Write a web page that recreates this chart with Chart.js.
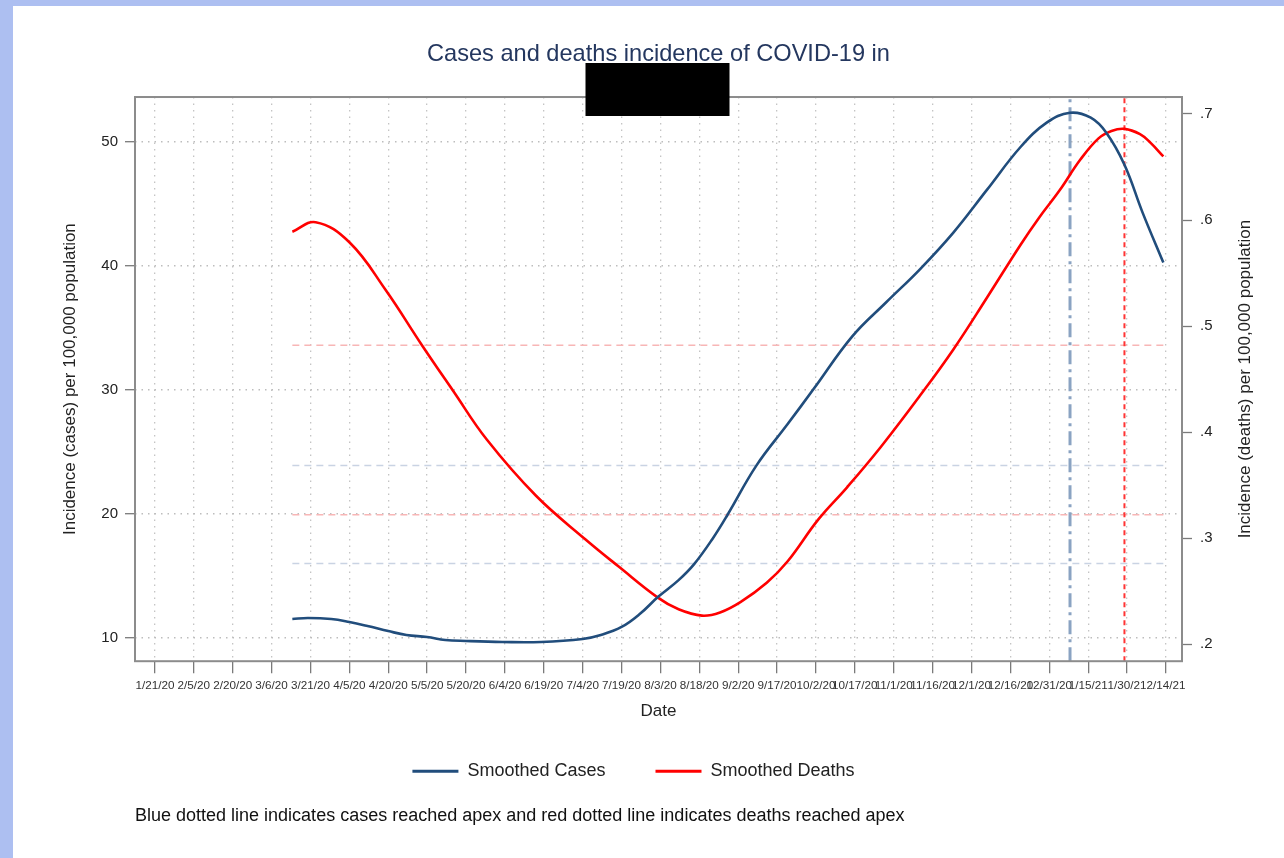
<!DOCTYPE html>
<html><head><meta charset="utf-8">
<script src="https://cdn.jsdelivr.net/npm/chart.js@4/dist/chart.umd.min.js"></script>
<style>html,body{margin:0;padding:0;background:#fff;overflow:hidden;}canvas{display:block;}</style>
</head><body>
<canvas id="c" width="1284" height="858"></canvas>
<script>
// ---------- data ----------
const dateTickLabels = ['1/21/20','2/5/20','2/20/20','3/6/20','3/21/20','4/5/20','4/20/20','5/5/20','5/20/20','6/4/20','6/19/20','7/4/20','7/19/20','8/3/20','8/18/20','9/2/20','9/17/20','10/2/20','10/17/20','11/1/20','11/16/20','12/1/20','12/16/20','12/31/20','1/15/21','1/30/21','2/14/21'];

const casesDates = ['3/14/20','3/20/20','3/29/20','4/5/20','4/12/20','4/20/20','4/27/20','5/5/20','5/12/20','5/20/20','6/3/20','6/18/20','7/4/20','7/11/20','7/19/20','7/26/20','8/2/20','8/10/20','8/16/20','8/23/20','8/29/20','9/9/20','9/21/20','10/1/20','10/16/20','10/29/20','11/11/20','11/24/20','12/7/20','12/20/20','12/30/20','1/8/21','1/16/21','1/22/21','1/29/21','2/5/21','2/13/21'];
const casesValues = [11.53,11.61,11.53,11.29,10.97,10.56,10.24,10.08,9.84,9.76,9.68,9.68,9.92,10.24,10.89,11.93,13.30,14.67,15.96,17.97,19.98,23.90,27.23,30.05,34.32,37.05,39.71,42.69,46.15,49.61,51.55,52.35,51.95,50.74,48.16,44.30,40.27];

const deathsDates = ['3/14/20','3/23/20','4/5/20','4/19/20','5/3/20','5/15/20','5/28/20','6/16/20','7/5/20','7/18/20','8/2/20','8/10/20','8/19/20','8/26/20','9/3/20','9/13/20','9/21/20','10/3/20','10/14/20','10/27/20','11/11/20','11/24/20','12/7/20','12/20/20','12/27/20','1/4/21','1/12/21','1/19/21','1/24/21','1/29/21','2/4/21','2/8/21','2/13/21'];
const deathsValues = [0.589,0.598,0.579,0.534,0.482,0.439,0.393,0.340,0.299,0.273,0.244,0.233,0.227,0.230,0.240,0.258,0.278,0.318,0.348,0.386,0.434,0.478,0.527,0.577,0.602,0.628,0.657,0.677,0.684,0.686,0.681,0.673,0.660];

const caseRefLevels = [16.0, 23.9];
const deathRefLevels = [0.322, 0.482];

const leftTickValues = [10, 20, 30, 40, 50];
const rightTickValues = [0.2, 0.3, 0.4, 0.5, 0.6, 0.7];
const rightTickLabels = ['.2', '.3', '.4', '.5', '.6', '.7'];

const titleText = 'Cases and deaths incidence of COVID-19 in';
const leftAxisTitle = 'Incidence (cases) per 100,000 population';
const rightAxisTitle = 'Incidence (deaths) per 100,000 population';
const footnote = 'Blue dotted line indicates cases reached apex and red dotted line indicates deaths reached apex';

// ---------- helpers ----------
const ORIGIN = Date.UTC(2020, 0, 21);
function dayOf(s) { const [m, d, y] = s.split('/').map(Number); return (Date.UTC(2000 + y, m - 1, d) - ORIGIN) / 864e5; }

const X_MIN = -7.7, X_MAX = 396.2;
const L_MIN = 8.13, L_MAX = 53.62;
const R_MIN = 0.184, R_MAX = 0.716;

const FONT = "'Liberation Sans', Arial, Helvetica, sans-serif";
Chart.defaults.font.family = FONT;

const casesPts = casesDates.map((d, i) => ({x: dayOf(d), y: casesValues[i]}));
const deathsPts = deathsDates.map((d, i) => ({x: dayOf(d), y: deathsValues[i]}));
const casesApexDay = dayOf(casesDates[casesValues.indexOf(Math.max(...casesValues))]);
const deathsApexDay = dayOf(deathsDates[deathsValues.indexOf(Math.max(...deathsValues))]);
const x0 = dayOf(casesDates[0]), x1 = dayOf(casesDates[casesDates.length - 1]);

const CASE_COLOR = '#214d7c';
const DEATH_COLOR = '#ff0000';

function refLine(level, axis, color) {
  return {label: 'ref', data: [{x: x0, y: level}, {x: x1, y: level}], yAxisID: axis,
    borderColor: color, borderWidth: 1.5, borderDash: [7, 5], pointRadius: 0, tension: 0};
}

const datasets = [
  {label: 'Smoothed Cases', data: casesPts, yAxisID: 'y', borderColor: CASE_COLOR, backgroundColor: CASE_COLOR,
   borderWidth: 2.6, pointRadius: 0, tension: 0.4},
  {label: 'Smoothed Deaths', data: deathsPts, yAxisID: 'y1', borderColor: DEATH_COLOR, backgroundColor: DEATH_COLOR,
   borderWidth: 2.6, pointRadius: 0, tension: 0.4},
  {label: 'apexCases', data: [{x: casesApexDay, y: L_MIN}, {x: casesApexDay, y: L_MAX}], yAxisID: 'y',
   borderColor: '#8aa3c2', borderWidth: 3, borderDash: [14, 5, 3, 5], pointRadius: 0, tension: 0},
  {label: 'apexDeaths', data: [{x: deathsApexDay, y: L_MIN}, {x: deathsApexDay, y: L_MAX}], yAxisID: 'y',
   borderColor: '#ff3434', borderWidth: 2, borderDash: [5, 4], pointRadius: 0, tension: 0},
  ...caseRefLevels.map(v => refLine(v, 'y', '#c9d3e3')),
  ...deathRefLevels.map(v => refLine(v, 'y1', '#f8b6b6'))
];

const decor = {
  id: 'decor',
  beforeDraw(chart) {
    const {ctx, width, height} = chart;
    ctx.save();
    ctx.fillStyle = '#adbff1'; ctx.fillRect(0, 0, width, height);
    ctx.fillStyle = '#ffffff'; ctx.fillRect(13, 6, width - 13, height - 6);
    ctx.restore();
  },
  afterDraw(chart) {
    const {ctx, chartArea: a} = chart;
    ctx.save();
    ctx.strokeStyle = '#8c8c8c'; ctx.lineWidth = 2;
    ctx.strokeRect(a.left, a.top, a.right - a.left, a.bottom - a.top);
    ctx.fillStyle = '#222'; ctx.font = '17px ' + FONT;
    ctx.textAlign = 'center'; ctx.textBaseline = 'middle';
    ctx.translate(chart.scales.y1.right - 22, (a.top + a.bottom) / 2);
    ctx.rotate(-Math.PI / 2);
    ctx.fillText(rightAxisTitle, 0, 0);
    ctx.restore();
    ctx.save();
    ctx.fillStyle = '#000';
    const cx = (a.left + a.right) / 2;
    ctx.fillRect(cx - 73, 63, 144, 53);
    ctx.restore();
  }
};

new Chart(document.getElementById('c'), {
  type: 'line',
  data: {datasets},
  plugins: [decor],
  options: {
    responsive: false, animation: false, devicePixelRatio: 1,
    layout: {padding: {left: 0, right: 17, top: 0, bottom: 31.2}},
    plugins: {
      title: {display: true, text: titleText, fullSize: false, color: '#24375f',
        font: {size: 23.6, weight: 'normal', lineHeight: 1.2}, padding: {top: 40, bottom: 28.7}},
      subtitle: {display: true, text: footnote, position: 'bottom', align: 'start', fullSize: false, color: '#111',
        font: {size: 18, weight: 'normal', lineHeight: 1.2}, padding: {top: 15, bottom: 0}},
      legend: {display: true, position: 'bottom', align: 'center',
        labels: {boxWidth: 46, boxHeight: 3, padding: 50, color: '#222', font: {size: 18},
          generateLabels(chart) {
            return Chart.defaults.plugins.legend.labels.generateLabels(chart)
              .filter(it => it.datasetIndex < 2).map(it => Object.assign(it, {lineWidth: 0}));
          }}},
      tooltip: {enabled: false}
    },
    scales: {
      x: {type: 'linear', position: 'bottom', min: X_MIN, max: X_MAX, offset: false,
        afterBuildTicks(s) { s.ticks = dateTickLabels.map(l => ({value: dayOf(l)})); },
        afterFit(s) { s.height = 51; },
        ticks: {autoSkip: false, maxRotation: 0, minRotation: 0, padding: 6, color: '#333', font: {size: 11.7},
          callback: (v, i) => dateTickLabels[i]},
        grid: {display: true, drawOnChartArea: true, drawTicks: true, color: '#c4c4c4', lineWidth: 1.3,
          tickLength: 12, tickColor: '#7a7a7a', tickWidth: 1.3, borderDash: [1.5, 5]},
        border: {display: false, dash: [1.5, 5]},
        title: {display: true, text: 'Date', color: '#222', font: {size: 17, lineHeight: 0.1}, padding: {top: 0, bottom: 0}}
      },
      y: {type: 'linear', position: 'left', min: L_MIN, max: L_MAX,
        afterBuildTicks(s) { s.ticks = leftTickValues.map(v => ({value: v})); },
        afterFit(s) { s.width = 135; },
        ticks: {padding: 7, color: '#222', font: {size: 15}, callback: v => String(v)},
        grid: {display: true, drawOnChartArea: true, drawTicks: true, color: '#bdbdbd', lineWidth: 1.4,
          tickLength: 10, tickColor: '#7a7a7a', tickWidth: 1.3, borderDash: [1.5, 5]},
        border: {display: false, dash: [1.5, 5]},
        title: {display: true, text: leftAxisTitle, color: '#222', font: {size: 17, lineHeight: 1.2}, padding: {top: 59.8, bottom: 0}}
      },
      y1: {type: 'linear', position: 'right', min: R_MIN, max: R_MAX,
        afterBuildTicks(s) { s.ticks = rightTickValues.map(v => ({value: v})); },
        afterFit(s) { s.width = 85; },
        ticks: {padding: 8, color: '#222', font: {size: 15},
          callback: (v, i) => rightTickLabels[i]},
        grid: {display: true, drawOnChartArea: false, drawTicks: true, tickLength: 10, tickColor: '#7a7a7a', tickWidth: 1.3},
        border: {display: false},
        title: {display: false}
      }
    }
  }
});
</script>
</body></html>
